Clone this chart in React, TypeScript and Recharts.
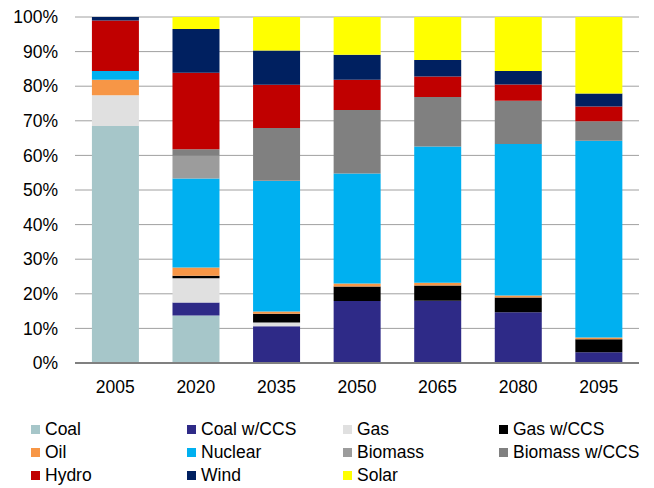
import { BarChart, Bar, XAxis, YAxis, CartesianGrid, Legend } from 'recharts';

const years = ['2005', '2020', '2035', '2050', '2065', '2080', '2095'];

// share of generation, % of total, bottom of the stack first
const coal = [68.5, 13.75, 0, 0, 0, 0, 0];
const coalCcs = [0, 3.75, 10.6, 17.9, 18.0, 14.7, 3.1];
const gas = [8.9, 7.0, 1.1, 0, 0, 0, 0];
const gasCcs = [0, 0.7, 2.5, 4.2, 4.4, 4.2, 3.8];
const oil = [4.5, 2.4, 0.7, 0.9, 0.8, 0.6, 0.5];
const nuclear = [2.5, 25.7, 37.7, 31.8, 39.4, 43.8, 56.8];
const biomass = [0, 6.6, 0.3, 0, 0, 0, 0];
const biomassCcs = [0, 1.9, 15.0, 18.3, 14.3, 12.5, 5.7];
const hydro = [14.6, 22.1, 12.5, 8.8, 5.9, 4.7, 4.2];
const wind = [1.0, 12.6, 9.9, 7.2, 4.8, 3.9, 3.8];
const solar = [0, 3.5, 9.7, 10.9, 12.4, 15.6, 22.1];

const yTicks = [0, 10, 20, 30, 40, 50, 60, 70, 80, 90, 100];

const series = [
  { key: 'Coal', values: coal, color: '#A6C6C9' },
  { key: 'Coal w/CCS', values: coalCcs, color: '#2E2A87' },
  { key: 'Gas', values: gas, color: '#E0E0E0' },
  { key: 'Gas w/CCS', values: gasCcs, color: '#000000' },
  { key: 'Oil', values: oil, color: '#F79646' },
  { key: 'Nuclear', values: nuclear, color: '#00B0F0' },
  { key: 'Biomass', values: biomass, color: '#9C9C9C' },
  { key: 'Biomass w/CCS', values: biomassCcs, color: '#808080' },
  { key: 'Hydro', values: hydro, color: '#C00000' },
  { key: 'Wind', values: wind, color: '#002060' },
  { key: 'Solar', values: solar, color: '#FFFF00' },
];

const data = years.map((year, i) => {
  const row: Record<string, string | number> = { year };
  series.forEach((s) => {
    row[s.key] = s.values[i];
  });
  return row;
});

const FONT = '"Liberation Sans", Arial, sans-serif';

// four-column legend, filled row by row
const GridLegend = () => (
  <div style={{ position: 'relative', width: 654, height: 70, fontFamily: FONT }}>
    {series.map((s, i) => {
      const col = i % 4;
      const row = Math.floor(i / 4);
      return (
        <div
          key={s.key}
          style={{
            position: 'absolute',
            left: 31 + col * 156,
            top: row * 23,
            height: 23,
            display: 'flex',
            alignItems: 'center',
            fontSize: 17.5,
            color: '#000',
            whiteSpace: 'nowrap',
          }}
        >
          <span style={{ width: 9, height: 9, background: s.color, marginRight: 5 }} />
          {s.key}
        </div>
      );
    })}
  </div>
);

export default function App() {
  return (
    <div style={{ position: 'absolute', left: 0, top: 0, background: '#fff' }}>
      <BarChart
        width={654}
        height={488}
        data={data}
        margin={{ top: 17, right: 15, left: 0, bottom: 0 }}
        barCategoryGap="21%"
      >
        <CartesianGrid vertical={false} stroke="#a0a0a0" />
        <XAxis
          dataKey="year"
          height={55}
          tickLine={false}
          axisLine={{ stroke: '#808080', strokeWidth: 2 }}
          tickMargin={12}
          tick={{ fill: '#000', fontSize: 17.5, fontFamily: FONT }}
        />
        <YAxis
          width={75}
          domain={[0, 100]}
          ticks={yTicks}
          allowDataOverflow
          tickFormatter={(v: number) => `${v}%`}
          tickLine={false}
          axisLine={false}
          tickMargin={11}
          tick={{ fill: '#000', fontSize: 17.5, fontFamily: FONT }}
        />
        <Legend
          verticalAlign="bottom"
          content={() => <GridLegend />}
          wrapperStyle={{ left: 0, width: 654 }}
        />
        {series.map((s) => (
          <Bar key={s.key} dataKey={s.key} stackId="mix" fill={s.color} isAnimationActive={false} />
        ))}
      </BarChart>
    </div>
  );
}
